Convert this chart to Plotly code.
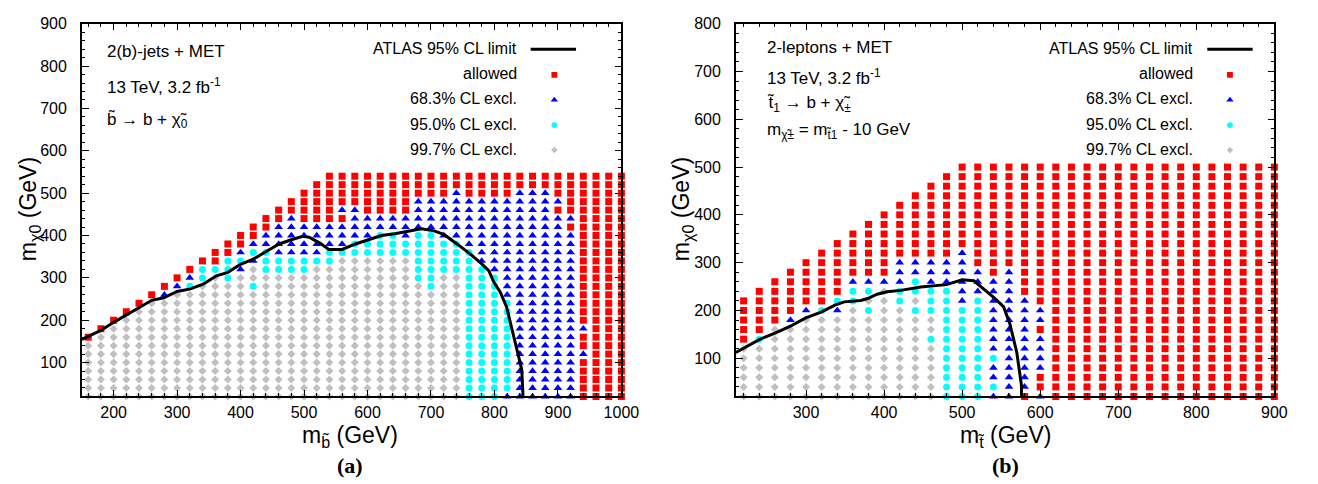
import plotly.graph_objects as go

W, H = 1318, 484

# Category codes for each grid point:
#   R = allowed, B = 68.3% CL excl., C = 95.0% CL excl., G = 99.7% CL excl., . = no point
# ---------------- panel (a): sbottom -> b + neutralino ----------------
a_msb = list(range(160, 1001, 20))          # sbottom mass columns (GeV)
a_mchi = list(range(540, 19, -20))          # neutralino mass rows (GeV), top row first
a_grid = [
    "." * 19 + "R" * 24,                                                        # 540
    "." * 18 + "R" * 25,                                                        # 520
    "." * 17 + "R" * 12 + "B" + "R" * 4 + "B" * 3 + "R" * 6,                    # 500
    "." * 16 + "R" * 10 + "B" * 12 + "R" * 5,                                   # 480
    "." * 15 + "R" * 5 + "B" * 2 + "R" * 4 + "B" * 11 + "R" * 6,                # 460
    "." * 14 + "R" * 2 + "B" + "R" * 4 + "B" * 18 + "R" * 4,                    # 440
    "." * 13 + "R" * 2 + "B" * 23 + "R" * 5,                                    # 420
    "." * 12 + "R" * 2 + "B" * 9 + "CCBCC" + "B" * 11 + "R" * 4,                # 400
    "." * 11 + "R" * 2 + "B" * 8 + "C" * 9 + "B" * 9 + "R" * 4,                 # 380
    "." * 10 + "R" * 2 + "B" + "C" * 2 + "B" * 4 + "C" * 12 + "B" * 8 + "R" * 4,  # 360
    "." * 9 + "R" * 2 + "C" * 2 + "B" + "C" * 6 + "G" * 6 + "C" * 5 + "B" * 8 + "R" * 4,  # 340
    "." * 8 + "R" + "C" * 3 + "B" + "G" + "C" * 4 + "G" * 8 + "C" * 6 + "B" * 7 + "R" * 4,  # 320
    "." * 7 + "R" + "B" + "C" + "G" + "C" + "G" * 14 + "C" * 2 + "G" * 2 + "C" * 3 + "B" * 6 + "R" * 4,  # 300
    "." * 6 + "R" + "B" + "C" + "G" * 4 + "C" + "G" * 13 + "C" + "G" * 2 + "C" * 3 + "B" * 6 + "R" * 4,  # 280
    "." * 5 + "R" + "B" + "G" * 23 + "C" * 3 + "B" * 6 + "R" * 4,               # 260
    "." * 4 + "R" + "G" * 25 + "C" * 4 + "B" * 5 + "R" * 4,                     # 240
    "." * 3 + "R" + "G" * 26 + "C" * 4 + "B" * 5 + "R" * 4,                     # 220
    "." * 2 + "R" + "G" * 27 + "C" * 4 + "B" * 5 + "R" * 4,                     # 200
    "." + "R" + "G" * 28 + "C" * 4 + "B" * 6 + "R" * 3,                         # 180
    "R" + "G" * 29 + "C" * 4 + "B" * 5 + "R" * 4,                               # 160
    "G" * 30 + "C" * 4 + "B" * 5 + "R" * 4,                                     # 140
    "G" * 30 + "C" * 4 + "B" * 6 + "R" * 3,                                     # 120
    "G" * 30 + "C" * 4 + "B" * 5 + "R" * 4,                                     # 100
    "G" * 30 + "C" * 4 + "B" * 5 + "R" * 4,                                     # 80
    "G" * 30 + "C" * 4 + "B" * 5 + "R" * 4,                                     # 60
    "G" * 30 + "C" * 4 + "B" * 5 + "R" * 4,                                     # 40
    "G" * 30 + "C" * 3 + "B" * 6 + "R" * 4,                                     # 20
]
# ATLAS 95% CL exclusion contour
a_limit_x = [150, 180, 200, 220, 240, 260, 279, 300, 321, 342, 362, 380, 400, 420, 441, 461,
             480, 498, 508, 525, 539, 560, 581, 601, 622, 643, 664, 685, 705, 721, 742, 762,
             780, 791, 799, 809, 819, 827, 835, 843, 845]
a_limit_y = [155, 176, 195, 213, 230, 247, 253, 268, 274, 286, 305, 313, 332, 344, 363, 380,
             390, 398, 396, 382, 367, 367, 380, 390, 400, 404, 410, 416, 411, 402, 379, 356,
             333, 317, 290, 267, 232, 185, 131, 84, 20]

# ---------------- panel (b): stop -> b + chargino ----------------
b_mst = list(range(220, 901, 20))           # stop mass columns (GeV)
b_mchi = list(range(20, 501, 20))           # neutralino mass rows (GeV), bottom row first
b_cols = [
    "G" * 6 + "R" * 5,                                          # 220
    "G" * 6 + "C" + "R" * 5,                                    # 240
    "G" * 8 + "R" * 5,                                          # 260
    "G" * 8 + "B" + "R" * 5,                                    # 280
    "G" * 9 + "B" + "R" * 5,                                    # 300
    "G" * 9 + "C" + "R" * 6,                                    # 320
    "G" * 9 + "B" + "C" + "R" * 6,                              # 340
    "G" * 10 + "C" * 2 + "B" + "R" * 5,                         # 360
    "G" * 9 + "C" + "G" + "C" + "B" + "R" * 6,                  # 380
    "G" * 12 + "B" + "R" * 7,                                   # 400
    "G" * 10 + "C" * 2 + "B" * 3 + "R" * 6,                     # 420
    "G" * 9 + "C" + "G" + "C" * 2 + "B" * 2 + "R" * 7,          # 440
    "G" * 6 + "C" + "G" * 2 + "C" * 3 + "B" * 3 + "R" * 8,      # 460
    "C" * 12 + "B" * 3 + "R" * 9,                               # 480
    "C" * 10 + "B" * 6 + "R" * 9,                               # 500
    "C" * 11 + "B" * 3 + "R" * 11,                              # 520
    "B" + "C" + "B" * 2 + "C" + "B" * 8 + "R" * 12,             # 540
    "B" * 14 + "R" * 11,                                        # 560
    "R" + "B" * 10 + "R" * 14,                                  # 580
    "B" + "R" * 2 + "B" * 4 + "R" + "B" * 2 + "R" * 15,         # 600
    "RRRRRRRRRRRRRRRRRRRRRRRRR",                                # 620
    "RRRRRRRRRRRRRRRRRRRRRRRRR",                                # 640
    "RRRRRRRRRRRRRRRRRRRRRRRRR",                                # 660
    "RRRRRRRRRRRRRRRRRRRRRRRRR",                                # 680
    "RRRRRRRRRRRRRRRRRRRRRRRRR",                                # 700
    "RRRRRRRRRRRRRRRRRRRRRRRRR",                                # 720
    "RRRRRRRRRRRRRRRRRRRRRRRRR",                                # 740
    "RRRRRRRRRRRRRRRRRRRRRRRRR",                                # 760
    "RRRRRRRRRRRRRRRRRRRRRRRRR",                                # 780
    "RRRRRRRRRRRRRRRRRRRRRRRRR",                                # 800
    "RRRRRRRRRRRRRRRRRRRRRRRRR",                                # 820
    "RRRRRRRRRRRRRRRRRRRRRRRRR",                                # 840
    "RRRRRRRRRRRRRRRRRRRRRRRRR",                                # 860
    "RRRRRRRRRRRRRRRRRRRRRRRRR",                                # 880
    "RRRRRRRRRRRRRRRRRRRRRRRRR",                                # 900
]
b_limit_x = [210, 240, 261, 280, 299, 320, 337, 349, 370, 379, 391, 404, 421, 447, 480, 500,
             515, 540, 553, 561, 570, 576, 576]
b_limit_y = [112, 139, 153, 167, 184, 197, 211, 218, 221, 225, 234, 239, 242, 249, 254, 264,
             262, 228, 208, 173, 112, 43, 20]

# legend labels and marker styles, drawn back to front
classes = [
    ("G", "99.7% CL excl.", "diamond", "#c0c0c0", 6.2),
    ("C", "95.0% CL excl.", "circle", "#00ffff", 7.0),
    ("B", "68.3% CL excl.", "triangle-up", "#0000ff", 7.6),
    ("R", "allowed", "square", "#ff0000", 7.0),
]
legend_order = ["R", "B", "C", "G"]

FONT = "Liberation Sans"


def points_from_rows(xs, ys, rows, code):
    px, py = [], []
    for yv, row in zip(ys, rows):
        for xv, ch in zip(xs, row):
            if ch == code:
                px.append(xv)
                py.append(yv)
    return px, py


def points_from_cols(xs, ys, cols, code):
    px, py = [], []
    for xv, col in zip(xs, cols):
        for yv, ch in zip(ys, col):
            if ch == code:
                px.append(xv)
                py.append(yv)
    return px, py


def px_x(v):
    return v / W


def px_y(v):
    return 1 - v / H


fig = go.Figure()

for axx, axy, getter, xs, ys, grid, lx, ly in [
    ("x", "y", points_from_rows, a_msb, a_mchi, a_grid, a_limit_x, a_limit_y),
    ("x2", "y2", points_from_cols, b_mst, b_mchi, b_cols, b_limit_x, b_limit_y),
]:
    for code, name, sym, col, size in classes:
        px, py = getter(xs, ys, grid, code)
        fig.add_trace(go.Scatter(
            x=px, y=py, mode="markers", xaxis=axx, yaxis=axy, showlegend=False,
            cliponaxis=False, name=name,
            marker=dict(symbol=sym, color=col, size=size, line=dict(width=0)),
        ))
    fig.add_trace(go.Scatter(
        x=lx, y=ly, mode="lines", xaxis=axx, yaxis=axy, showlegend=False,
        line=dict(color="black", width=3), name="ATLAS 95% CL limit",
    ))

# in-plot keys (pixel coordinates on a full-page overlay axis)
annotations = []
style = {c[0]: c for c in classes}
rows_y = [42, 68, 93.5, 119, 144.5]
for text_right, key_x0, key_x1, key_mid in [(526, 538, 584, 562), (1212, 1224, 1270, 1247)]:
    annotations.append(dict(x=px_x(text_right), y=px_y(rows_y[0] - 1), xref="paper", yref="paper",
                            text="ATLAS 95% CL limit", xanchor="right", yanchor="middle",
                            showarrow=False, font=dict(family=FONT, size=16, color="black")))
    fig.add_trace(go.Scatter(x=[key_x0, key_x1], y=[rows_y[0], rows_y[0]], mode="lines",
                             xaxis="x3", yaxis="y3", showlegend=False, hoverinfo="skip",
                             line=dict(color="black", width=3)))
    for yy, code in zip(rows_y[1:], legend_order):
        _, name, sym, col, size = style[code]
        annotations.append(dict(x=px_x(text_right), y=px_y(yy - 1), xref="paper", yref="paper",
                                text=name, xanchor="right", yanchor="middle", showarrow=False,
                                font=dict(family=FONT, size=16, color="black")))
        fig.add_trace(go.Scatter(x=[key_mid], y=[yy], mode="markers", xaxis="x3", yaxis="y3",
                                 showlegend=False, hoverinfo="skip",
                                 marker=dict(symbol=sym, color=col, size=size - 1.2,
                                             line=dict(width=0))))

BT = "b\u0303"
TT = "t\u0303"
CHI = "\u03c7\u0303"
info = [
    (106, 44, "2(b)-jets + MET"),
    (106, 79, "13 TeV, 3.2 fb<sup>-1</sup>"),
    (106, 114, BT + " \u2192 b + " + CHI + "<sub>0</sub>"),
    (776, 40, "2-leptons + MET"),
    (776, 70, "13 TeV, 3.2 fb<sup>-1</sup>"),
    (776, 98, TT + "<sub>1</sub> \u2192 b + " + CHI + "<sub>\u00b1</sub>"),
    (776, 125, "m<sub>" + CHI + "\u00b1</sub> = m<sub>" + TT + "1</sub> - 10 GeV"),
]
for x, y, t in info:
    annotations.append(dict(x=px_x(x), y=px_y(y), xref="paper", yref="paper", text=t,
                            xanchor="left", yanchor="middle", showarrow=False,
                            font=dict(family=FONT, size=17, color="black")))

titles = [
    (355, 436, "m<sub>" + BT + "</sub> (GeV)", 0),
    (1019, 436, "m<sub>" + TT + "</sub> (GeV)", 0),
    (30, 205, "m<sub>\u03c70</sub> (GeV)", -90),
    (692, 205, "m<sub>\u03c70</sub> (GeV)", -90),
]
for x, y, t, ang in titles:
    annotations.append(dict(x=px_x(x), y=px_y(y), xref="paper", yref="paper", text=t,
                            textangle=ang, xanchor="center", yanchor="middle", showarrow=False,
                            font=dict(family=FONT, size=23, color="black")))
for x, t in [(355, "(a)"), (1019, "(b)")]:
    annotations.append(dict(x=px_x(x), y=px_y(465), xref="paper", yref="paper",
                            text="<b>" + t + "</b>", xanchor="center", yanchor="middle",
                            showarrow=False,
                            font=dict(family="Liberation Serif", size=22, color="black")))

axis_common = dict(
    showline=True, linecolor="black", linewidth=1.5, mirror="allticks",
    ticks="inside", ticklen=7, tickwidth=1, tickcolor="black",
    showgrid=False, zeroline=False, dtick=100, tick0=0,
    minor=dict(dtick=20, ticks="inside", ticklen=3.5, tickcolor="black", showgrid=False),
    tickfont=dict(family=FONT, size=16, color="black"),
    fixedrange=True,
)
ydom = [(H - 395) / H, (H - 16) / H]

fig.update_layout(
    width=W, height=H, autosize=False,
    margin=dict(l=0, r=0, t=0, b=0),
    paper_bgcolor="white", plot_bgcolor="rgba(0,0,0,0)",
    xaxis=dict(domain=[83 / W, 630 / W], range=[150, 1000], anchor="y",
               ticklabelstandoff=1, **axis_common),
    yaxis=dict(domain=ydom, range=[20, 900], anchor="x", ticklabelstandoff=10, **axis_common),
    xaxis2=dict(domain=[746 / W, 1292 / W], range=[210, 900], anchor="y2",
                ticklabelstandoff=1, **axis_common),
    yaxis2=dict(domain=ydom, range=[20, 800], anchor="x2", ticklabelstandoff=10, **axis_common),
    xaxis3=dict(domain=[0, 1], range=[0, W], anchor="y3", visible=False, fixedrange=True),
    yaxis3=dict(domain=[0, 1], range=[H, 0], anchor="x3", visible=False, fixedrange=True),
    annotations=annotations,
    showlegend=False,
)

fig.write_html("out.html", config={"displayModeBar": False})
